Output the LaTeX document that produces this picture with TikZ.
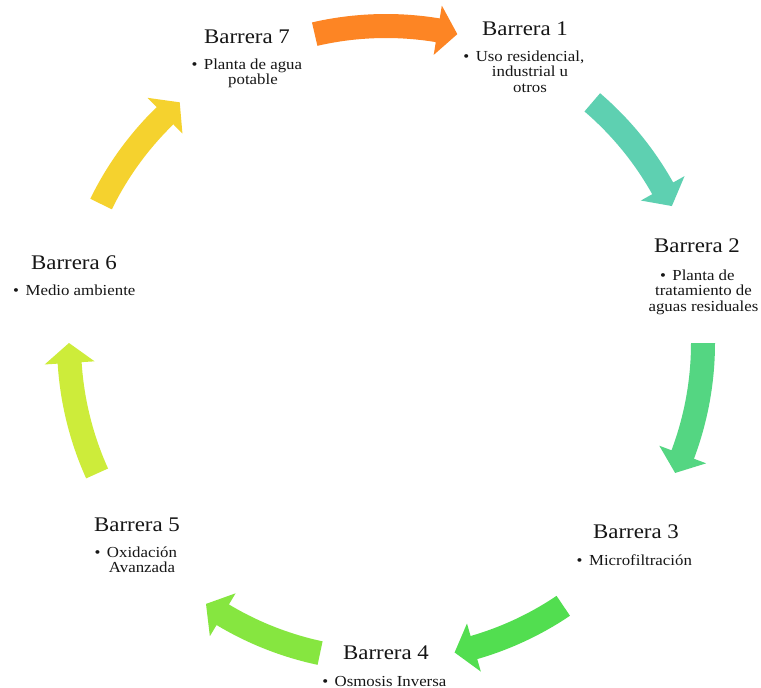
\documentclass[tikz,border=0pt]{standalone}
\usepackage{fontspec}
\setmainfont{Liberation Serif}[FakeStretch=1.1]

\definecolor{txt}{RGB}{22,22,22}
\definecolor{arOrange}{RGB}{253,133,36}
\definecolor{arTeal}{RGB}{94,208,177}
\definecolor{arGreenA}{RGB}{84,214,130}
\definecolor{arGreenB}{RGB}{82,222,80}
\definecolor{arGreenC}{RGB}{134,230,64}
\definecolor{arLime}{RGB}{205,236,58}
\definecolor{arYellow}{RGB}{245,210,46}

% curved block arrow on the ring, running clockwise
% #1 = tail angle, #2 = tip angle (degrees), #3 = fill colour
\newcommand\ringarrow[3]{%
  \fill[#3]
    (#1:329pt) arc[start angle=#1, end angle={#2+3.6}, radius=329pt]
    -- ({#2+3.6}:342pt) -- (#2:317pt) -- ({#2+3.6}:292pt)
    -- ({#2+3.6}:305pt) arc[start angle={#2+3.6}, end angle=#1, radius=305pt]
    -- cycle;}

% centred lines, first baseline on the node's base
\newcommand\lines[1]{\begin{tabular}[t]{@{}c@{}}#1\end{tabular}}
\newcommand\bul{\llap{\textbullet\hspace{6.5pt}}}

\begin{document}
\begin{tikzpicture}[x=1pt, y=-1pt,
  title/.style={anchor=base, inner sep=0pt, text=txt,
    font=\fontsize{20.8}{24}\selectfont},
  body/.style={anchor=base, inner sep=0pt, text=txt,
    font=\fontsize{15.3}{15.5}\selectfont}]
  \fill[white] (0,0) rectangle (761,688);
  \useasboundingbox (0,0) rectangle (761,688);

  % ring of arrows around the centre of the cycle
  \begin{scope}[shift={(386,343)}]
    \ringarrow{103}{77}{arOrange}
    \ringarrow{49.4}{25.6}{arTeal}
    \ringarrow{0}{-24.2}{arGreenA}
    \ringarrow{-56}{-77.5}{arGreenB}
    \ringarrow{-102}{-124.6}{arGreenC}
    \ringarrow{-155.7}{-180}{arLime}
    \ringarrow{154}{130.6}{arYellow}
  \end{scope}

  % barrier titles
  \node[title] (t1) at (525,35)  {Barrera 1};
  \node[title] (t2) at (697,252) {Barrera 2};
  \node[title] (t3) at (636,538) {Barrera 3};
  \node[title] (t4) at (386,659) {Barrera 4};
  \node[title] (t5) at (137,531) {Barrera 5};
  \node[title] (t6) at (74,269)  {Barrera 6};
  \node[title] (t7) at (247,43)  {Barrera 7};

  % barrier descriptions
  \node[body] (d1) at (530,61)    {\lines{\bul Uso residencial,\\ industrial u\\ otros}};
  \node[body] (d2) at (703.5,280) {\lines{\bul Planta de\\ tratamiento de\\ aguas residuales}};
  \node[body] (d3) at (640.5,565) {\lines{\bul Microfiltración}};
  \node[body] (d4) at (390.5,686) {\lines{\bul Osmosis Inversa}};
  \node[body] (d5) at (142,557)   {\lines{\bul Oxidación\\ Avanzada}};
  \node[body] (d6) at (80.5,295)  {\lines{\bul Medio ambiente}};
  \node[body] (d7) at (253,69)    {\lines{\bul Planta de agua\\ potable}};
\end{tikzpicture}
\end{document}
